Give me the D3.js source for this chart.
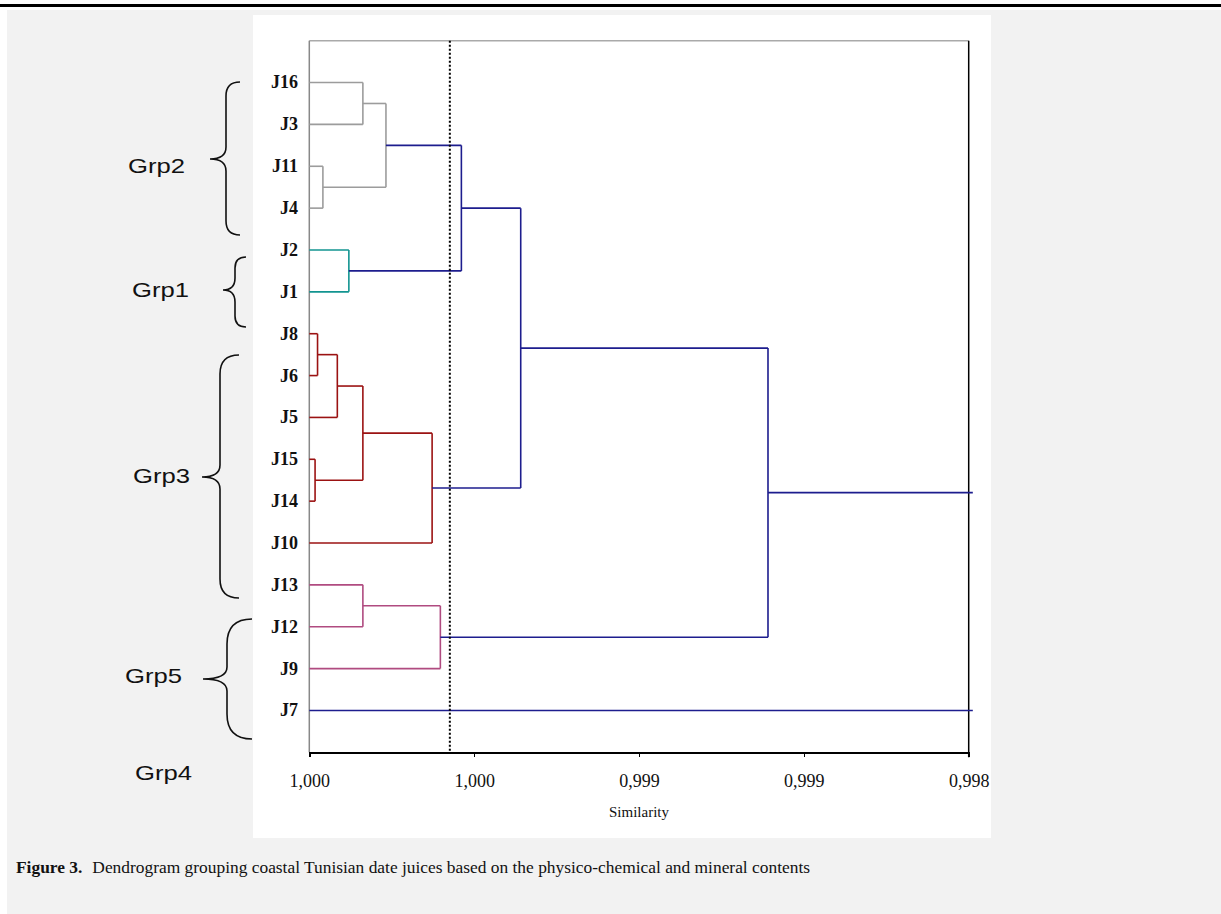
<!DOCTYPE html>
<meta charset="utf-8">
<style>
  body { margin: 0; background: #fff; }
  .axis path, .axis line { stroke: #000; stroke-width: 1.5; shape-rendering: crispEdges; }
  .axis text { font-family: "Liberation Serif", "Times New Roman", serif; font-size: 18px; fill: #111; }
  .leaf { font-family: "Liberation Serif", "Times New Roman", serif; font-size: 18px; font-weight: bold; fill: #111; }
  .grp { font-family: "Liberation Sans", Arial, sans-serif; font-size: 21px; fill: #111; }
  .caption { font-family: "Liberation Serif", "Times New Roman", serif; font-size: 17.4px; fill: #111; }
</style>
<script src="https://d3js.org/d3.v7.min.js"></script>
<div id="chart"></div>
<script>
// leaves in the order they appear top to bottom
var leaves = ["J16", "J3", "J11", "J4", "J2", "J1", "J8", "J6", "J5", "J15", "J14", "J10", "J13", "J12", "J9", "J7"];

// merges: [childA, childB, similarity, colour group]; "m<i>" refers to merge i
var merges = [
  ["J16", "J3", 0.99987, "grp2"],     // m0
  ["J11", "J4", 0.999967, "grp2"],    // m1
  ["m0", "m1", 0.999814, "grp2"],     // m2
  ["J2", "J1", 0.999904, "grp1"],     // m3
  ["m2", "m3", 0.999631, "link"],     // m4
  ["J8", "J6", 0.99998, "grp3"],      // m5
  ["m5", "J5", 0.999932, "grp3"],     // m6
  ["J15", "J14", 0.999986, "grp3"],   // m7
  ["m6", "m7", 0.99987, "grp3"],      // m8
  ["m8", "J10", 0.999702, "grp3"],    // m9
  ["m4", "m9", 0.999487, "link"],     // m10
  ["J13", "J12", 0.99987, "grp5"],    // m11
  ["m11", "J9", 0.999682, "grp5"],    // m12
  ["m10", "m12", 0.998887, "link"],   // m13
  ["m13", "J7", 0.99839, "link"]      // m14 (root, past the axis end)
];

var cutLevel = 0.999659;
var tickValues = [1.0, 0.9996, 0.9992, 0.9988, 0.9984];
var groupNames = ["Grp2", "Grp1", "Grp3", "Grp5", "Grp4"];

var colors = { grp2: "#9c9c9c", grp1: "#129490", grp3: "#9b1212", grp5: "#b04b80", link: "#1d1d8e" };

var W = 1221, H = 914;
var svg = d3.select("#chart").append("svg").attr("width", W).attr("height", H);

// page background
svg.append("rect").attr("x", 0).attr("y", 4).attr("width", W).attr("height", 3).attr("fill", "#000");
svg.append("rect").attr("x", 7).attr("y", 10).attr("width", W - 7).attr("height", H - 10).attr("fill", "#f2f2f2");
svg.append("rect").attr("x", 253).attr("y", 15).attr("width", 738).attr("height", 823).attr("fill", "#fff");

var pLeft = 309.3, pRight = 968.7, pTop = 40.7, pBottom = 752.3;

var x = d3.scaleLinear().domain([1.0, 0.9984]).range([pLeft, pRight]);
var y = d3.scalePoint().domain(leaves).range([pTop, pBottom]).padding(1);

// frame
svg.append("line").attr("x1", pLeft).attr("x2", pRight).attr("y1", pTop).attr("y2", pTop)
  .attr("stroke", "#aaa").attr("stroke-width", 1.5);
svg.append("line").attr("x1", pLeft).attr("x2", pLeft).attr("y1", pTop).attr("y2", pBottom)
  .attr("stroke", "#888").attr("stroke-width", 1.5);
svg.append("line").attr("x1", pRight).attr("x2", pRight).attr("y1", pTop).attr("y2", pBottom + 5)
  .attr("stroke", "#000").attr("stroke-width", 1.5);

// build node positions
var nodes = {};
leaves.forEach(function(l) { nodes[l] = { y: y(l), sim: 1.0 }; });
merges.forEach(function(m, i) {
  var a = nodes[m[0]], b = nodes[m[1]];
  nodes["m" + i] = { y: (a.y + b.y) / 2, sim: m[2] };
});

var g = svg.append("g").attr("fill", "none").attr("stroke-width", 1.6);
merges.forEach(function(m, i) {
  var a = nodes[m[0]], b = nodes[m[1]], c = colors[m[3]];
  var xm = x(m[2]);
  [a, b].forEach(function(ch) {
    g.append("line").attr("x1", x(ch.sim)).attr("x2", xm).attr("y1", ch.y).attr("y2", ch.y).attr("stroke", c);
  });
  if (i < merges.length - 1) {
    g.append("line").attr("x1", xm).attr("x2", xm).attr("y1", a.y).attr("y2", b.y).attr("stroke", c);
  }
});

// leaf labels
svg.selectAll(".leaf").data(leaves).enter().append("text")
  .attr("class", "leaf")
  .attr("x", 298).attr("y", function(d) { return y(d); })
  .attr("dy", "0.33em").attr("text-anchor", "end")
  .text(function(d) { return d; });

// x axis
var axis = svg.append("g").attr("class", "axis")
  .attr("transform", "translate(0," + pBottom + ")")
  .call(d3.axisBottom(x).tickValues(tickValues).tickSize(5).tickSizeOuter(0)
    .tickFormat(function(d) { return d3.format(".3f")(d).replace(".", ","); }));
axis.selectAll("text").attr("dy", "1.15em").attr("y", 14);

svg.append("text").attr("class", "caption").style("font-size", "15px")
  .attr("x", (pLeft + pRight) / 2).attr("y", 817).attr("text-anchor", "middle").text("Similarity");

// truncation line
svg.append("line").attr("x1", x(cutLevel)).attr("x2", x(cutLevel)).attr("y1", pTop).attr("y2", pBottom)
  .attr("stroke", "#000").attr("stroke-width", 2).attr("stroke-dasharray", "2,2");

// group braces
var braces = [
  { xe: 240, xv: 226, xt: 210, yt: 82, yb: 235, ym: 159 },
  { xe: 246, xv: 235, xt: 223, yt: 257, yb: 327, ym: 290 },
  { xe: 239, xv: 220, xt: 202, yt: 355, yb: 598, ym: 477 },
  { xe: 252, xv: 227, xt: 203, yt: 619, yb: 739, ym: 679 }
];
braces.forEach(function(b) {
  var r = b.xe - b.xv, t = 12;
  var p = d3.path();
  p.moveTo(b.xe, b.yt);
  p.quadraticCurveTo(b.xv, b.yt, b.xv, b.yt + r);
  p.lineTo(b.xv, b.ym - t);
  p.quadraticCurveTo(b.xv, b.ym, b.xt, b.ym);
  p.quadraticCurveTo(b.xv, b.ym, b.xv, b.ym + t);
  p.lineTo(b.xv, b.yb - r);
  p.quadraticCurveTo(b.xv, b.yb, b.xe, b.yb);
  svg.append("path").attr("d", p.toString()).attr("fill", "none").attr("stroke", "#111").attr("stroke-width", 1.6);
});

var grpPos = [[128, 173], [132, 297], [133, 483], [125, 683], [135, 780]];
groupNames.forEach(function(n, i) {
  svg.append("text").attr("class", "grp")
    .attr("x", grpPos[i][0]).attr("y", grpPos[i][1])
    .attr("textLength", 57).attr("lengthAdjust", "spacingAndGlyphs")
    .text(n);
});

// caption
var cap = svg.append("text").attr("class", "caption").attr("x", 16).attr("y", 873);
cap.append("tspan").attr("font-weight", "bold").text("Figure 3.");
cap.append("tspan").attr("dx", 10).text("Dendrogram grouping coastal Tunisian date juices based on the physico-chemical and mineral contents");
</script>
